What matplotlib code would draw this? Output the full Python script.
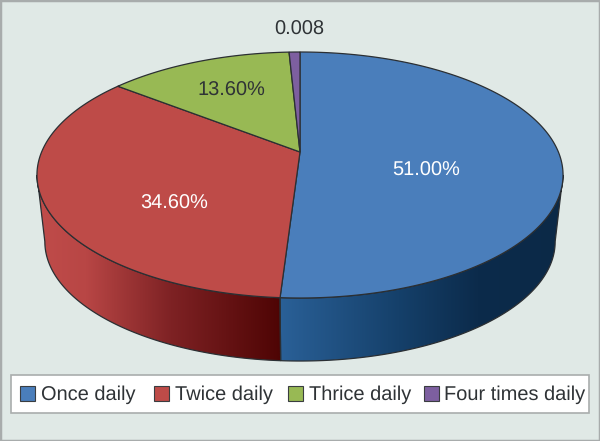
import numpy as np
import matplotlib
matplotlib.use('Agg')
import matplotlib.pyplot as plt
from matplotlib.colors import LinearSegmentedColormap
from matplotlib.patches import Polygon, Rectangle

categories = ['Once daily', 'Twice daily', 'Thrice daily', 'Four times daily']
shares = [51.0, 34.6, 13.6, 0.8]
value_labels = ['51.00%', '34.60%', '13.60%', '0.008']

colors = ['#4a7ebb', '#be4b48', '#98b954', '#7d5fa0']
wall_blue = [(0, '#2a6097'), (0.42, '#15406a'), (0.7, '#0c2b4b'), (1, '#0b2947')]
wall_red = [(0, '#c04c4a'), (0.2, '#b84645'), (0.55, '#7e2224'), (1, '#4e0404')]
line_color = '#2b2f33'

plt.rcParams['font.family'] = ['Liberation Sans', 'DejaVu Sans']
plt.rcParams['text.hinting'] = 'no_hinting'
plt.rcParams['text.hinting_factor'] = 1

# perspective of the disc, in pixels of the 600x441 picture
CX, CY = 300, 152
TILT = 0.187
RX, RY = 258.4, 118.7
WALL_SCALE = 0.97
WALL_CY = 219.4


def rim(deg):
    """Project points of the disc rim, angle clockwise from the top."""
    t = np.radians(deg)
    d = 1 + TILT * np.cos(t)
    return RX * np.sin(t) / d, RY * np.cos(t) / d


def top_xy(deg):
    x, y = rim(deg)
    return CX + x, CY - y


def low_xy(deg):
    x, y = rim(deg)
    return CX + WALL_SCALE * x, WALL_CY - WALL_SCALE * y


fig = plt.figure(figsize=(6, 4.41), dpi=100, facecolor='#e0e9e6')
ax = fig.add_axes([0, 0, 1, 1])
ax.axis('off')

# which part of the rim has a visible wall
all_deg = np.linspace(0, 360, 1441)
xs = top_xy(all_deg)[0]
right_deg = all_deg[np.argmax(xs)]
left_deg = all_deg[np.argmin(xs)]

edges = np.concatenate([[0], np.cumsum(shares)]) * 3.6

walls = [(edges[0], edges[1], wall_blue), (edges[1], edges[2], wall_red)]
for start, end, cols in walls:
    start = max(start, right_deg)
    end = min(end, left_deg)
    deg = np.linspace(start, end, 200)
    tx, ty = top_xy(deg)
    bx, by = low_xy(deg)
    pts = np.vstack([np.column_stack([tx, ty]), np.column_stack([bx, by])[::-1]])
    cmap = LinearSegmentedColormap.from_list('wall', cols)
    x0, x1 = pts[:, 0].min(), pts[:, 0].max()
    grad = np.linspace(0, 1, 256)[None, :]
    im = ax.imshow(grad, cmap=cmap, extent=(x0, x1, 400, 100), aspect='auto', zorder=2)
    outline = Polygon(pts, closed=True, fc='none', ec=line_color, lw=0.9, zorder=3)
    ax.add_patch(outline)
    im.set_clip_path(outline)

# top of the pie
for i, col in enumerate(colors):
    deg = np.linspace(edges[i], edges[i + 1], 200)
    tx, ty = top_xy(deg)
    pts = np.vstack([[CX, CY], np.column_stack([tx, ty])])
    ax.add_patch(Polygon(pts, closed=True, fc=col, ec=line_color, lw=0.9, zorder=4))

# value labels
label_xy = [(426, 170.5), (174, 204), (231, 91), (299, 29.5)]
label_colors = ['white', 'white', '#2f3336', '#2f3336']
for txt, (lx, ly), lc in zip(value_labels, label_xy, label_colors):
    ax.text(lx, ly, txt, ha='center', va='center', fontsize=14.4, color=lc, zorder=6)

# legend
ax.add_patch(Rectangle((10.5, 374.5), 578, 38, fc='white', ec='#a9adad', lw=1.2, zorder=5))
swatch_x = [20, 154, 288, 424]
text_x = [41, 175, 309, 444]
for name, col, sx, lx in zip(categories, colors, swatch_x, text_x):
    ax.add_patch(Rectangle((sx, 386), 15, 15, fc=col, ec='#3a3d40', lw=0.8, zorder=6))
    ax.text(lx, 399.5, name, ha='left', va='baseline', fontsize=14.15, color='#2f3336', zorder=6)

# frame of the picture
ax.add_patch(Rectangle((0, 0), 600, 441, fc='none', ec='#a8acac', lw=2.5, zorder=7))

ax.set_xlim(0, 600)
ax.set_ylim(441, 0)
fig.savefig('out.png', dpi=100, facecolor=fig.get_facecolor())
